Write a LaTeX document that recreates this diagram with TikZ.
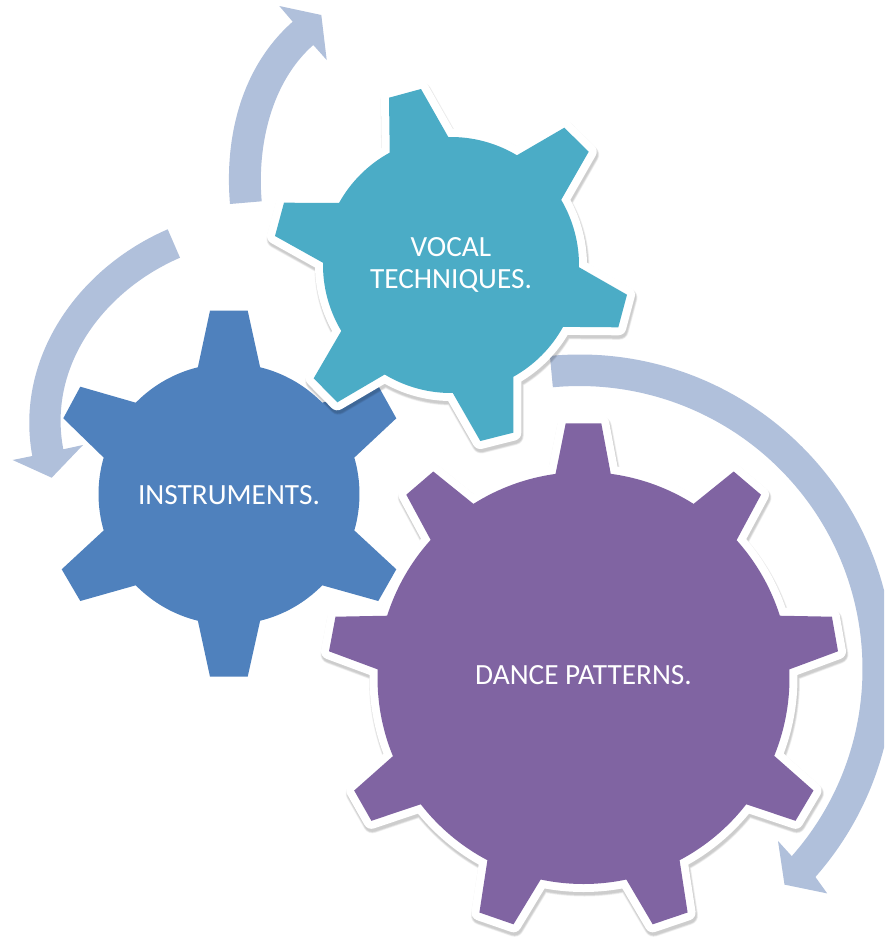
\documentclass[tikz,border=0pt]{standalone}
\usepackage{fontspec}
\setmainfont{Carlito}
\definecolor{arrowblue}{HTML}{B0C0DB}
\definecolor{gearblue}{HTML}{4F81BD}
\definecolor{gearteal}{HTML}{4BACC6}
\definecolor{gearpurple}{HTML}{8064A2}
\tikzset{
  sweep/.style={fill=arrowblue,draw=none},
  geartext/.style={text=white,font=\fontsize{29.3}{32}\selectfont,align=center,inner sep=0pt},
}
% one rim segment of a gear: line to the root point at angle #1, arc to angle #2
\newcommand\rim[2]{-- ([shift={(\cx,\cy)}]#1:\rr) arc[start angle=#1,end angle=#2,radius=\rr]}
% framed gear: soft shadow, white outline, colour fill
\newcommand\framedgear[2]{%
  \foreach \w in {16,17,18,19}{\path[draw=black,opacity=.05,line width=\w pt,line join=round,shift={(1,3)}] #2;}
  \path[draw=white,line width=16pt,line join=round] #2;
  \path[fill=#1] #2;
}
\begin{document}
\begin{tikzpicture}[x=1pt,y=-1pt]
\path[fill=white] (0,0) rectangle (884,937);
\clip (0,0) rectangle (884,937);

% ---- circular arrows
\path[sweep] (230,204) .. controls (224.2,136.3) and (241.7,66.7) .. (292.7,21.7)
  -- (279.3,6) -- (321.3,15) -- (326.7,60) -- (313.3,45)
  .. controls (271.3,82) and (256.9,145.5) .. (261.7,201.3) -- cycle;
\path[sweep] (167.7,229.3) .. controls (76.8,268.6) and (14.5,359.3) .. (32.3,456)
  -- (12.7,460) -- (51.7,477.7) -- (83,445) -- (63.3,449.3)
  .. controls (47.5,366.9) and (102.6,291.2) .. (180,257.7) -- cycle;
\def\cx{579.5}\def\cy{669}
\path[sweep] ([shift={(\cx,\cy)}]-95.4:314.5) arc[start angle=-95.4,end angle=41.4,radius=314.5]
  -- (827.2,893.4) -- (784.5,884.6) -- (778,841) -- ([shift={(\cx,\cy)}]41.4:283)
  arc[start angle=41.4,end angle=-95.4,radius=283] -- cycle;

% ---- blue gear
\def\cx{229}\def\cy{494}\def\rr{130.5}
\path[fill=gearblue] (247.7,310.7) \rim{-76.2}{-44.4} -- (378.7,386.7) -- (396.3,418.3)
  \rim{-16.2}{16.2} -- (396.3,569.3) -- (378.3,601)
  \rim{44.4}{76.2} -- (247.7,676.7) -- (210,676.7)
  \rim{103.8}{135.6} -- (80.3,601) -- (61.7,569.3)
  \rim{163.8}{196.2} -- (63.3,418.3) -- (80.3,386.7)
  \rim{224.4}{256.2} -- (210,310.7) -- cycle;
\node[geartext] (instruments) at (229,495) {INSTRUMENTS.};

% ---- teal gear
\def\cx{451}\def\cy{265}\def\rr{128}
\framedgear{gearteal}{(421,89) \rim{268.8}{301} -- (564.3,127.7) -- (588.7,151.7)
  \rim{-30.6}{1} -- (627,294.7) -- (618.3,327.3)
  \rim{28.9}{60.9} -- (513.3,432.7) -- (480.3,441)
  \rim{89.2}{121.2} -- (337.3,402.3) -- (313.7,378.3)
  \rim{149}{181} -- (275,236) -- (284,202.7)
  \rim{209}{241.4} -- (389,97.7) -- cycle}
\node[geartext] (vocal) at (451,265) {VOCAL\\TECHNIQUES.};

% ---- purple gear
\def\cx{583.5}\def\cy{678}\def\rr{206}
\framedgear{gearpurple}{(601.3,423.4) \rim{-82.4}{-57.7} -- (733.7,471.5) -- (761,494.7)
  \rim{-42}{-17.6} -- (831.9,616.7) -- (838,651.3)
  \rim{-2.4}{22.2} -- (813.5,790.5) -- (795.5,820.8)
  \rim{37.8}{62.2} -- (687.6,912.5) -- (652.7,924.3)
  \rim{78}{102} -- (513.5,924.3) -- (479.4,912.5)
  \rim{117.8}{142.2} -- (371.4,820.8) -- (354.2,790.5)
  \rim{157.7}{182.4} -- (329,651.3) -- (335.5,616.7)
  \rim{197.6}{222.1} -- (406.3,494.7) -- (433.3,471.5)
  \rim{237.7}{262.2} -- (565.7,423.4) -- cycle}
\node[geartext] (dance) at (583.5,675) {DANCE PATTERNS.};
\end{tikzpicture}
\end{document}
